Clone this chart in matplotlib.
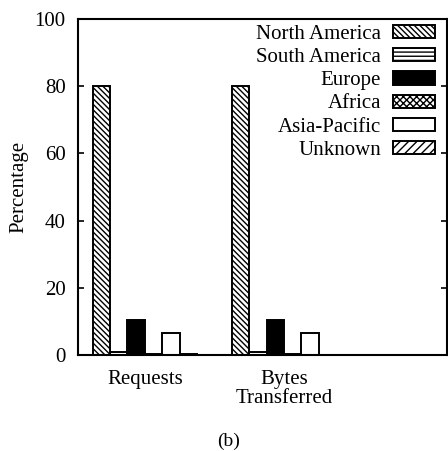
import matplotlib
matplotlib.use("Agg")
import matplotlib.pyplot as plt
import numpy as np

plt.rcParams['font.family'] = ['Liberation Serif', 'DejaVu Serif']
plt.rcParams['hatch.linewidth'] = 1.0

categories = ['Requests', 'Bytes\nTransferred']
regions = ['North America', 'South America', 'Europe', 'Africa', 'Asia-Pacific', 'Unknown']
north_america = [80, 80]
south_america = [1.0, 1.0]
europe = [10.5, 10.5]
africa = [0.4, 0.3]
asia_pacific = [6.5, 6.5]
unknown = [0.3, 0.0]

series = [north_america, south_america, europe, africa, asia_pacific, unknown]
hatches = ['\\\\\\\\\\\\', '----', None, 'xxxxx', None, '////']
faces = ['white', 'white', 'black', 'white', 'white', 'white']

fig = plt.figure(figsize=(4.48, 4.51), dpi=100)
ax = fig.add_axes([78 / 448, 1 - 355 / 451, 369 / 448, 336 / 451])

x = np.arange(len(categories))
w = 0.125
for i, (vals, name) in enumerate(zip(series, regions)):
    ax.bar(x + (i - 2.5) * w, vals, width=w, facecolor=faces[i], edgecolor='black',
           hatch=hatches[i], linewidth=1.4, label=name)

ax.set_xlim(-0.48, 2.17)
ax.set_ylim(0, 100)
ax.set_yticks([0, 20, 40, 60, 80, 100])
ax.set_xticks(x)
ax.set_xticklabels(categories, fontsize=15, linespacing=0.95)
ax.tick_params(axis='y', direction='in', right=True, labelsize=15, length=4, width=1.2, pad=9)
ax.tick_params(axis='x', length=0, pad=11)
ax.set_ylabel('Percentage', fontsize=15, labelpad=4)
for s in ax.spines.values():
    s.set_linewidth(1.5)

leg = ax.legend(loc='upper right', bbox_to_anchor=(435 / 448, 1 - 25 / 451),
                bbox_transform=fig.transFigure, frameon=False,
                markerfirst=False, fontsize=15, handlelength=2.0, handleheight=0.6,
                labelspacing=0.2, handletextpad=0.6, borderaxespad=0, borderpad=0)
for t in leg.get_texts():
    t.set_ha('right')

fig.text(229 / 448, 1 - 441 / 451, '(b)', ha='center', va='center', fontsize=14)

fig.savefig('out.png', dpi=100)
